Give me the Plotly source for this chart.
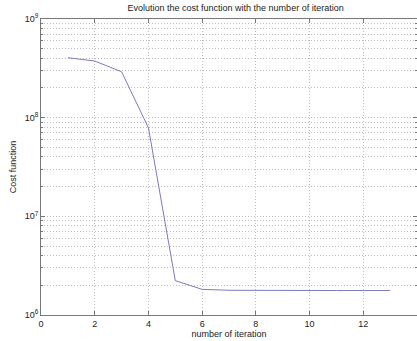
import plotly.graph_objects as go

iterations = [1, 2, 3, 4, 5, 6, 7, 8, 9, 10, 11, 12, 13]
cost = [4.05e8, 3.75e8, 2.92e8, 7.9e7, 2.23e6, 1.82e6, 1.78e6, 1.77e6, 1.77e6, 1.77e6, 1.77e6, 1.77e6, 1.77e6]

x_ticks = [0, 2, 4, 6, 8, 10, 12, 14]
y_decades = [6, 7, 8, 9]
y_ticktext = [f"10<sup>{d}</sup>" for d in y_decades]

font = "Liberation Sans, Arial, sans-serif"
grid = dict(showgrid=True, gridcolor="#bdbdbd", griddash="1px,2px", gridwidth=1)

fig = go.Figure()
fig.add_trace(go.Scatter(
    x=iterations, y=cost, mode="lines",
    line=dict(color="#7b7bbf", width=1),
    showlegend=False,
))

fig.update_layout(
    width=417, height=341,
    margin=dict(l=41, r=0, t=19, b=26),
    paper_bgcolor="white", plot_bgcolor="white",
    font=dict(family=font, size=9, color="#222"),
    title=dict(text="Evolution the cost function with the number of iteration",
               x=0.565, xanchor="center", y=0.978, yanchor="middle",
               font=dict(size=9, color="#222")),
)
fig.update_xaxes(
    range=[0, 14], tickvals=x_ticks, ticktext=[str(t) for t in x_ticks],
    **grid,
    showline=True, linecolor="#777", linewidth=1, mirror="ticks",
    ticks="inside", ticklen=4, tickcolor="#777",
    zeroline=False,
    title=dict(text="number of iteration", standoff=2, font=dict(size=9)),
)
fig.update_yaxes(
    type="log", range=[6, 9],
    tickvals=[10 ** d for d in y_decades], ticktext=y_ticktext,
    **grid,
    minor=dict(dtick="D1", ticks="inside", ticklen=2, tickcolor="#777",
               showgrid=True, gridcolor="#bdbdbd", griddash="1px,2px", gridwidth=1),
    showline=True, linecolor="#777", linewidth=1, mirror="ticks",
    ticks="inside", ticklen=4, tickcolor="#777",
    zeroline=False,
    title=dict(text="Cost function", standoff=6, font=dict(size=9)),
)

fig.write_html("out.html")
